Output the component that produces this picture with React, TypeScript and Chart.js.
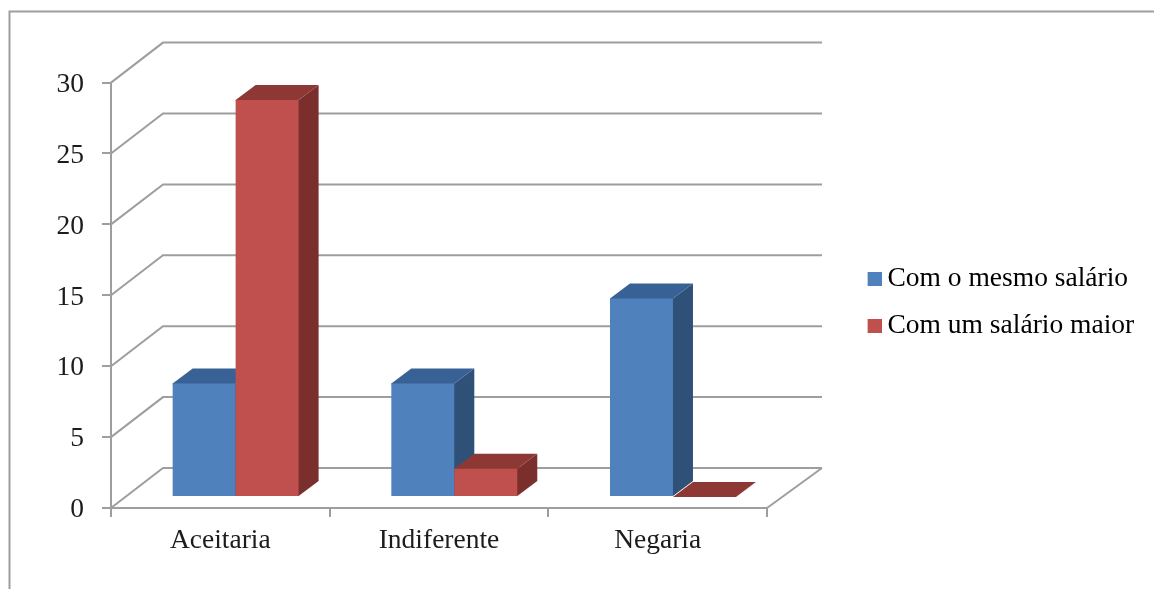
import React, { useEffect, useRef } from "react";
import { Chart, registerables } from "chart.js";

Chart.register(...registerables);

const categories = ["Aceitaria", "Indiferente", "Negaria"];
const sameSalary = [8, 8, 14];
const higherSalary = [28, 2, 0];
const seriesNames = ["Com o mesmo salário", "Com um salário maior"];
const frontColors = ["#4f81bd", "#c0504d"];
const sideColors = ["#2f5178", "#7b2f2d"];
const topColors = ["#386195", "#8e3836"];

const FONT = "'Liberation Serif', 'Times New Roman', serif";
const FONT_SIZE = 27.5;
const TEXT = "#1c1c1c";
const LINE = "#9e9e9e";

// Projection of the 3D box: wall depth, bar plane offset and bar depth.
const WALL_DX = 52;
const WALL_DX_RIGHT = 55;
const WALL_DY = 40;
const BAR_SHIFT_X = 15.3;
const BAR_SHIFT_Y = 11;
const BAR_DX = 20;
const BAR_DY = 15;
// Faces run slightly under the front face so no seam shows at their shared edge.
const FACE_OVERLAP = 1;

function strokePath(ctx: CanvasRenderingContext2D, pts: number[][]) {
  ctx.beginPath();
  pts.forEach(([x, y], i) => (i ? ctx.lineTo(x, y) : ctx.moveTo(x, y)));
  ctx.stroke();
}

function fillPath(ctx: CanvasRenderingContext2D, color: string, pts: number[][]) {
  ctx.fillStyle = color;
  ctx.beginPath();
  pts.forEach(([x, y], i) => (i ? ctx.lineTo(x, y) : ctx.moveTo(x, y)));
  ctx.closePath();
  ctx.fill();
}

// Chart frame, clipped on the right and bottom by the page edge.
const framePlugin = {
  id: "frame",
  beforeDraw(chart: any) {
    const { ctx, width, height } = chart;
    ctx.save();
    ctx.strokeStyle = LINE;
    ctx.lineWidth = 2;
    strokePath(ctx, [
      [9.5, height],
      [9.5, 11.5],
      [width, 11.5],
    ]);
    ctx.restore();
  },
};

// Moves the legend to its slot beside the plot without taking up layout room.
const legendSlotPlugin = {
  id: "legendSlot",
  afterLayout(chart: any) {
    const legend = chart.legend;
    legend.left = 849;
    legend.right = chart.width;
    legend.top = 245.8;
    legend.bottom = chart.height;
  },
};

// Draws the back wall, floor and extruded bars; front faces come from the bar elements.
const box3dPlugin = {
  id: "box3d",
  beforeDatasetsDraw(chart: any) {
    const { ctx, scales, chartArea } = chart;
    const y = scales.y;
    ctx.save();
    ctx.strokeStyle = LINE;
    ctx.lineWidth = 2;
    y.ticks.forEach((tick: any) => {
      const py = y.getPixelForValue(tick.value);
      strokePath(ctx, [
        [chartArea.left, py],
        [chartArea.left + WALL_DX, py - WALL_DY],
        [chartArea.right + WALL_DX_RIGHT, py - WALL_DY],
      ]);
    });
    strokePath(ctx, [
      [chartArea.right, chartArea.bottom],
      [chartArea.right + WALL_DX_RIGHT, chartArea.bottom - WALL_DY],
    ]);
    ctx.restore();

    ctx.save();
    ctx.translate(BAR_SHIFT_X, -BAR_SHIFT_Y);
    chart.data.datasets.forEach((_: any, i: number) => {
      const meta = chart.getDatasetMeta(i);
      meta.data.forEach((bar: any) => {
        const { x, y: top, base, width } = bar.getProps(["x", "y", "base", "width"], true);
        const l = x - width / 2;
        const r = x + width / 2;
        fillPath(ctx, sideColors[i], [
          [r - FACE_OVERLAP, top],
          [r, top],
          [r + BAR_DX, top - BAR_DY],
          [r + BAR_DX, base - BAR_DY],
          [r, base],
          [r - FACE_OVERLAP, base],
        ]);
        const under = base > top ? FACE_OVERLAP : 0;
        fillPath(ctx, topColors[i], [
          [l, top + under],
          [l, top],
          [l + BAR_DX, top - BAR_DY],
          [r + BAR_DX, top - BAR_DY],
          [r, top],
          [r, top + under],
        ]);
      });
      meta.controller.draw();
    });
    ctx.restore();
    return false;
  },
};

// Legend swatch with a transparent left margin, so the marker sits clear of the label offset.
function makeSwatch(color: string) {
  const c = document.createElement("canvas");
  c.width = 21;
  c.height = 14;
  const g = c.getContext("2d")!;
  g.fillStyle = color;
  g.fillRect(7, 0, 14, 14);
  return c;
}

export default function App() {
  const ref = useRef<HTMLCanvasElement | null>(null);

  useEffect(() => {
    if (!ref.current) return;
    const swatches = frontColors.map(makeSwatch);
    const tickFont = { family: FONT, size: FONT_SIZE, lineHeight: 1 };
    const chart = new Chart(ref.current, {
      type: "bar",
      data: {
        labels: categories,
        datasets: [
          { label: seriesNames[0], data: sameSalary, backgroundColor: frontColors[0] },
          { label: seriesNames[1], data: higherSalary, backgroundColor: frontColors[1] },
        ],
      },
      plugins: [framePlugin, legendSlotPlugin, box3dPlugin],
      options: {
        responsive: false,
        animation: false,
        events: [],
        layout: { padding: { left: 0, top: 82.6, right: 387, bottom: 0 } },
        datasets: { bar: { categoryPercentage: 0.576, barPercentage: 1 } },
        scales: {
          x: {
            afterFit: (s: any) => {
              s.height = 81;
            },
            grid: { drawOnChartArea: false, drawTicks: true, tickLength: 9, color: LINE, lineWidth: 2 },
            border: { color: LINE, width: 2 },
            ticks: { color: TEXT, font: tickFont, padding: 10.5, maxRotation: 0 },
          },
          y: {
            min: 0,
            max: 30,
            afterFit: (s: any) => {
              s.width = 111;
            },
            grid: { drawOnChartArea: false, drawTicks: true, tickLength: 9, color: LINE, lineWidth: 2 },
            border: { color: LINE, width: 2 },
            ticks: { stepSize: 5, color: TEXT, font: tickFont, padding: 18, labelOffset: 2 },
          },
        },
        plugins: {
          title: { display: false },
          tooltip: { enabled: false },
          legend: {
            position: "chartArea",
            align: "start",
            labels: {
              color: TEXT,
              font: { family: FONT, size: FONT_SIZE, lineHeight: 1 },
              usePointStyle: true,
              boxWidth: 5.25,
              boxHeight: 14,
              padding: 19.5,
              generateLabels: () =>
                seriesNames.map((text, i) => ({
                  text,
                  datasetIndex: i,
                  fillStyle: frontColors[i],
                  strokeStyle: frontColors[i],
                  lineWidth: 0,
                  pointStyle: swatches[i],
                  hidden: false,
                })),
            },
          },
        },
      },
    } as any);
    return () => chart.destroy();
  }, []);

  return (
    <canvas
      ref={ref}
      width={1154}
      height={589}
      style={{ display: "block", position: "absolute", left: 0, top: 0, background: "#ffffff" }}
    />
  );
}
